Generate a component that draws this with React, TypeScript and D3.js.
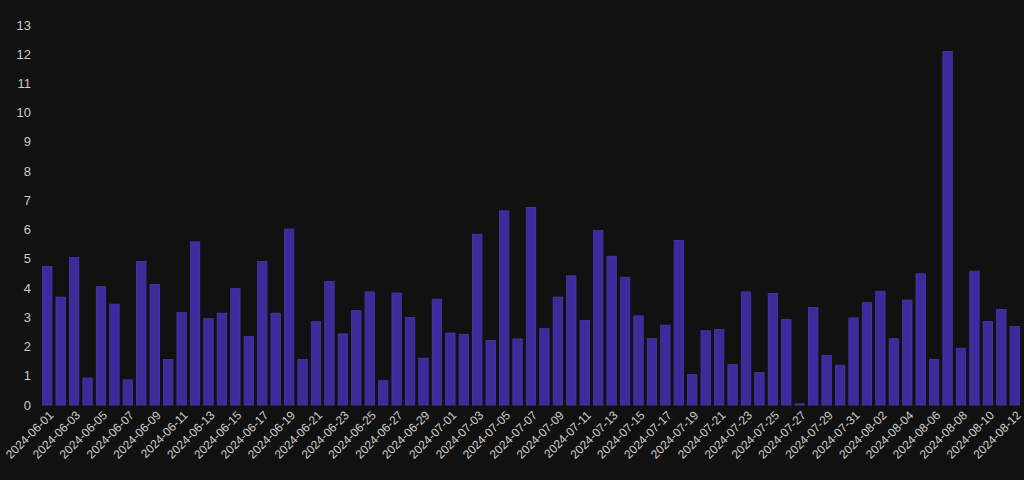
import React from "react";
import * as d3 from "d3";

const dates: string[] = (() => {
  const out: string[] = [];
  const months: [string, number][] = [["06", 30], ["07", 31], ["08", 12]];
  for (const [m, n] of months) {
    for (let d = 1; d <= n; d++) out.push(`2024-${m}-${String(d).padStart(2, "0")}`);
  }
  return out;
})();

const values: number[] = [
  4.74, 3.69, 5.05, 0.92, 4.05, 3.45, 0.86, 4.91, 4.12, 1.56,
  3.16, 5.58, 2.95, 3.14, 3.98, 2.34, 4.91, 3.14, 6.02, 1.56,
  2.85, 4.23, 2.43, 3.23, 3.87, 0.83, 3.83, 2.99, 1.6, 3.62,
  2.46, 2.42, 5.84, 2.21, 6.64, 2.26, 6.76, 2.61, 3.69, 4.42,
  2.89, 5.97, 5.09, 4.37, 3.05, 2.27, 2.73, 5.63, 1.04, 2.54,
  2.58, 1.38, 3.87, 1.11, 3.82, 2.93, 0.04, 3.34, 1.7, 1.36,
  2.98, 3.5, 3.89, 2.27, 3.59, 4.49, 1.56, 12.09, 1.94, 4.58,
  2.86, 3.27, 2.69,
];

const yTicks: number[] = [0, 1, 2, 3, 4, 5, 6, 7, 8, 9, 10, 11, 12, 13];

const W = 1024;
const H = 480;

export default function App() {
  const x = d3
    .scaleBand<string>()
    .domain(dates)
    .range([38.5, 1023.5])
    .paddingInner(0.3)
    .paddingOuter(0.3);
  const y = d3.scaleLinear().domain([0, 13]).range([405, 25]);
  const bw = x.bandwidth();

  return (
    <div style={{ position: "fixed", left: 0, top: 0, width: W, height: H }}>
      <svg width={W} height={H} style={{ display: "block" }}>
        <rect x={0} y={0} width={W} height={H} fill="#111111" />
        <g fontFamily="'Liberation Sans', Arial, sans-serif" fill="#cccccc">
          {yTicks.map((t) => (
            <text key={t} x={31} y={y(t)} dy="0.35em" textAnchor="end" fontSize={13}>
              {t}
            </text>
          ))}
        </g>
        <g>
          {values.map((v, i) => (
            <rect
              key={dates[i]}
              x={x(dates[i])!}
              y={y(v)}
              width={bw}
              height={y(0) - y(v)}
              fill="#3d2a9b"
              stroke="#4a37ad"
              strokeWidth={0.8}
            />
          ))}
        </g>
        <g fontFamily="'Liberation Sans', Arial, sans-serif" fill="#cccccc">
          {dates.map((d, i) =>
            i % 2 === 0 ? (
              <text
                key={d}
                transform={`translate(${x(d)! + bw / 2 + 4},${413}) rotate(-45)`}
                textAnchor="end"
                fontSize={12}
                dy="0.35em"
              >
                {d}
              </text>
            ) : null
          )}
        </g>
      </svg>
    </div>
  );
}
